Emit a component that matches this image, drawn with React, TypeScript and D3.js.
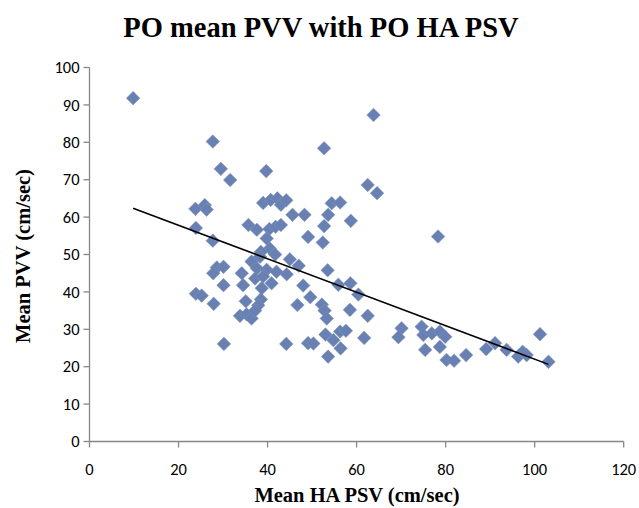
import React from "react";
import * as d3 from "d3";

const W = 639;
const H = 508;

const titleText = "PO mean PVV with PO HA PSV";
const xAxisTitle = "Mean HA PSV (cm/sec)";
const yAxisTitle = "Mean PVV (cm/sec)";

const xTicks = [0, 20, 40, 60, 80, 100, 120];
const yTicks = [0, 10, 20, 30, 40, 50, 60, 70, 80, 90, 100];

// Mean HA PSV (x) and Mean PVV (y) readings
const haPsv = [
  9.8, 63.8, 27.7, 52.7, 29.5, 39.7, 31.6, 62.5, 64.6,
  23.8, 25.9, 26.3, 39.0, 40.7, 42.2, 43.0, 44.2, 45.6, 48.3, 54.4, 56.3, 53.6, 52.7, 58.7,
  23.9, 27.7, 35.7, 37.6, 40.4, 41.8, 43.0, 39.8, 40.5, 38.5, 41.7, 38.3, 49.1, 52.4,
  45.0, 47.0, 53.5, 55.9, 58.6, 60.4, 28.6, 27.8, 30.1, 30.1, 23.9, 25.2, 27.9, 30.2,
  34.2, 34.5, 36.4, 37.6, 39.8, 42.0, 44.3, 37.2, 39.0, 40.9, 38.7, 38.5, 37.9, 35.1,
  33.8, 35.3, 36.4, 37.2, 44.2, 46.7, 48.0, 49.6, 49.1, 50.3, 52.2, 52.8, 53.3, 53.0,
  54.8, 56.3, 57.6, 56.4, 53.6, 58.5, 62.5, 61.7, 70.1, 69.4, 74.6, 75.0, 75.4, 76.9,
  78.7, 79.9, 78.7, 80.2, 81.9, 84.6, 89.1, 91.1, 93.7, 96.3, 97.3, 98.2, 101.2, 103.1, 78.3,
];
const meanPvv = [
  91.8, 87.3, 80.2, 78.4, 72.9, 72.3, 69.9, 68.6, 66.4,
  62.2, 63.2, 62.0, 63.8, 64.6, 65.0, 63.3, 64.5, 60.6, 60.6, 63.7, 63.9, 60.6, 57.6, 59.0,
  57.1, 53.7, 57.9, 56.6, 56.8, 57.4, 57.9, 54.3, 51.6, 50.7, 50.0, 49.4, 54.7, 53.2,
  48.7, 47.0, 45.8, 41.9, 42.3, 39.3, 46.5, 45.0, 46.7, 41.8, 39.5, 39.0, 36.8, 26.1,
  45.0, 41.8, 48.1, 46.3, 45.9, 45.4, 44.7, 43.6, 44.1, 42.3, 41.0, 38.0, 36.4, 37.5,
  33.6, 34.0, 32.9, 35.0, 26.1, 36.5, 41.7, 38.6, 26.3, 26.2, 36.6, 35.0, 32.9, 28.6,
  27.1, 29.4, 29.6, 24.9, 22.7, 35.2, 33.6, 27.7, 30.3, 27.9, 30.7, 28.5, 24.5, 28.9,
  29.4, 28.0, 25.3, 21.8, 21.6, 23.1, 24.7, 26.3, 24.5, 22.7, 24.0, 23.1, 28.7, 21.3, 54.8,
];

// linear trend line
const trendSlope = -0.4473;
const trendIntercept = 66.75;

export default function App() {
  const left = 89.5;
  const right = 623.7;
  const top = 67.5;
  const bottom = 441.5;

  const x = d3.scaleLinear().domain([0, 120]).range([left, right]);
  const y = d3.scaleLinear().domain([0, 100]).range([bottom, top]);

  const pts = haPsv.map((v, i) => ({ x: v, y: meanPvv[i] }));
  const [xMin, xMax] = d3.extent(haPsv) as [number, number];
  const line = d3
    .line<number>()
    .x((d) => x(d))
    .y((d) => y(trendIntercept + trendSlope * d));

  const r = 6.8;
  const diamond = `M0,${-r}L${r},0L0,${r}L${-r},0Z`;
  const axisColor = "#878787";
  const tickFont = "Carlito, Lato, 'Open Sans', sans-serif";
  const serif = "'Liberation Serif', 'Times New Roman', serif";

  return (
    <svg
      width={W}
      height={H}
      style={{ position: "absolute", left: 0, top: 0, background: "#fff" }}
    >
      <rect x={0} y={0} width={W} height={H} fill="#fff" />
      <text
        x={321}
        y={37}
        textAnchor="middle"
        fontFamily={serif}
        fontWeight="bold"
        fontSize={28.5}
        fill="#000"
      >
        {titleText}
      </text>

      {/* axes */}
      <line x1={left} x2={left} y1={top} y2={bottom} stroke={axisColor} strokeWidth={1.3} />
      <line x1={left} x2={right} y1={bottom} y2={bottom} stroke={axisColor} strokeWidth={1.3} />
      {yTicks.map((t) => (
        <g key={"y" + t}>
          <line x1={left - 6} x2={left} y1={y(t)} y2={y(t)} stroke={axisColor} strokeWidth={1.3} />
          <text
            x={left - 10}
            y={y(t)}
            dy="0.35em"
            textAnchor="end"
            fontFamily={tickFont}
            fontSize={16.5}
            fill="#000"
          >
            {t}
          </text>
        </g>
      ))}
      {xTicks.map((t) => (
        <g key={"x" + t}>
          <line x1={x(t)} x2={x(t)} y1={bottom} y2={bottom + 6} stroke={axisColor} strokeWidth={1.3} />
          <text
            x={x(t)}
            y={bottom + 33}
            textAnchor="middle"
            fontFamily={tickFont}
            fontSize={16.5}
            fill="#000"
          >
            {t}
          </text>
        </g>
      ))}

      {/* points */}
      {pts.map((p, i) => (
        <path
          key={i}
          d={diamond}
          transform={`translate(${x(p.x)},${y(p.y)})`}
          fill="#6981B2"
          stroke="#7f95c0"
          strokeWidth={0.5}
        />
      ))}

      {/* trend line */}
      <path d={line([xMin, xMax]) || ""} fill="none" stroke="#000" strokeWidth={1.5} />

      <text
        x={357}
        y={502}
        textAnchor="middle"
        fontFamily={serif}
        fontWeight="bold"
        fontSize={20.5}
        fill="#000"
      >
        {xAxisTitle}
      </text>
      <text
        transform={`translate(30,256) rotate(-90)`}
        textAnchor="middle"
        fontFamily={serif}
        fontWeight="bold"
        fontSize={20.5}
        fill="#000"
      >
        {yAxisTitle}
      </text>
    </svg>
  );
}
